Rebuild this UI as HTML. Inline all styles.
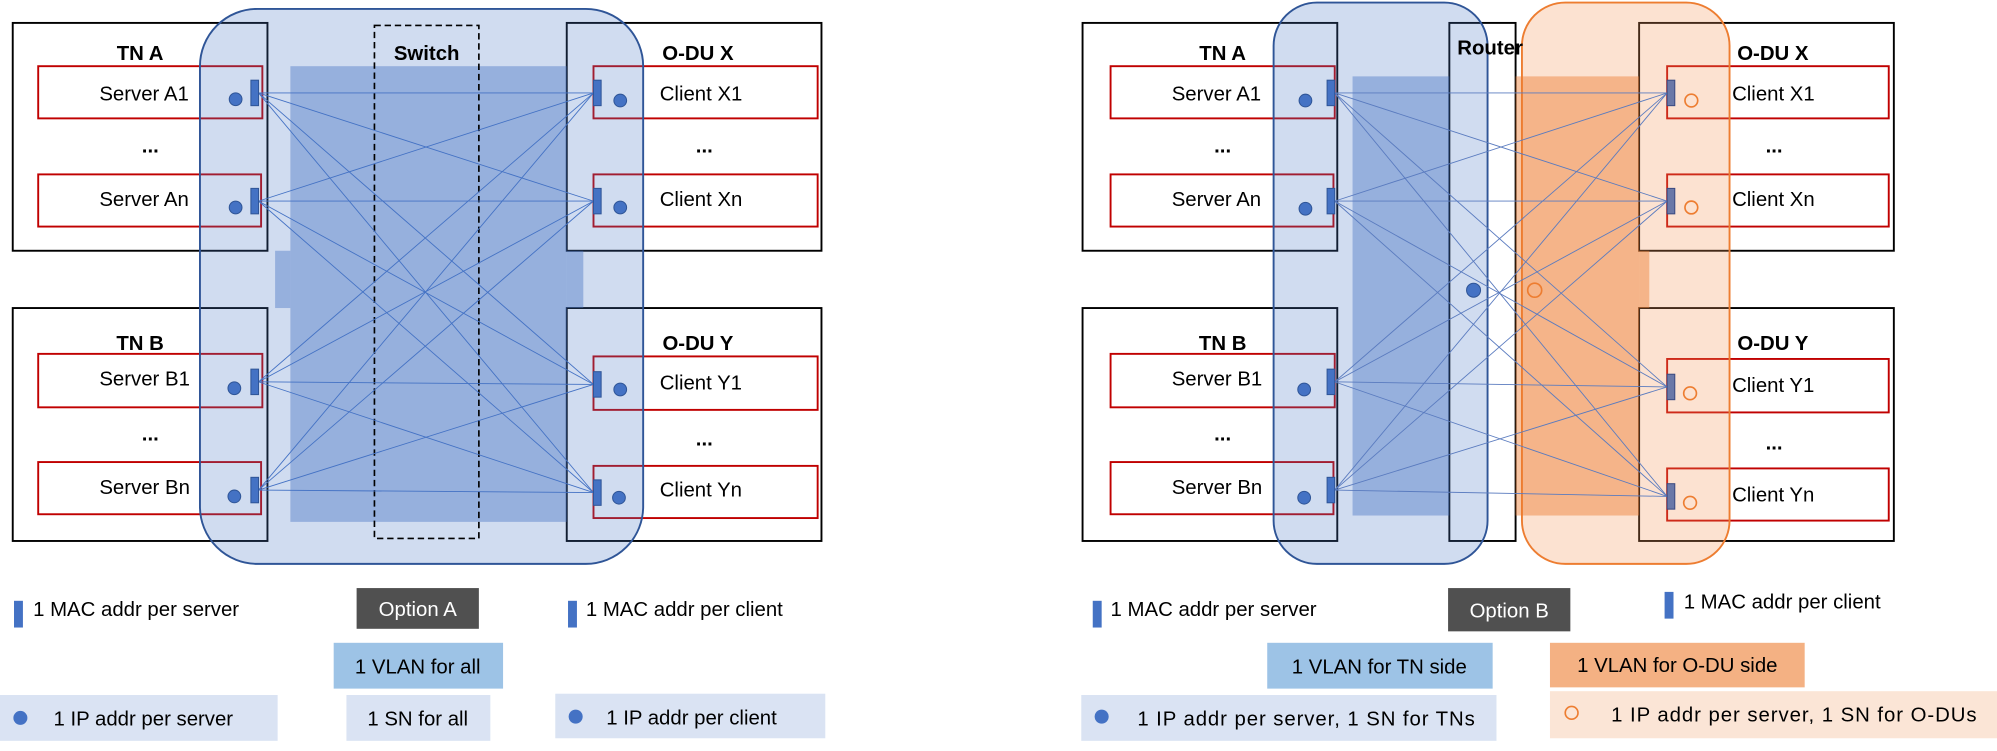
<!DOCTYPE html>
<html><head><meta charset="utf-8"><style>
html,body{margin:0;padding:0;background:#fff;}
svg{display:block;}
text{font-family:"Liberation Sans",sans-serif;font-size:16px;fill:#000;}
.b{font-weight:bold;}
</style></head><body>
<svg width="1997" height="751" viewBox="0 0 1568 590" preserveAspectRatio="none" xmlns="http://www.w3.org/2000/svg">
<!-- LEFT -->
<g fill="#fff" stroke="#000" stroke-width="1.5">
<rect x="10" y="18" width="200" height="179"/>
<rect x="10" y="242" width="200" height="183"/>
<rect x="445" y="18" width="200" height="179"/>
<rect x="445" y="242" width="200" height="183"/>
</g>
<g fill="none" stroke="#c00000" stroke-width="1.5">
<rect x="30" y="52" width="176" height="41"/>
<rect x="30" y="137" width="175" height="41"/>
<rect x="30" y="278" width="176" height="42"/>
<rect x="30" y="363" width="175" height="41"/>
<rect x="466" y="52" width="176" height="41"/>
<rect x="466" y="137" width="176" height="41"/>
<rect x="466" y="280" width="176" height="42"/>
<rect x="466" y="366" width="176" height="41"/>
</g>
<rect x="157" y="7" width="348" height="436" rx="45" fill="rgba(68,114,196,0.25)" stroke="#2f5597" stroke-width="1.5"/>
<rect x="228" y="52" width="217" height="358" fill="rgba(68,114,196,0.42)"/>
<rect x="216" y="197" width="12" height="45" fill="rgba(68,114,196,0.42)"/>
<rect x="445" y="197" width="13" height="45" fill="rgba(68,114,196,0.42)"/>
<rect x="294" y="20" width="82" height="403" fill="none" stroke="#000" stroke-width="1.3" stroke-dasharray="5,3"/>
<g stroke="#4472c4" stroke-width="0.7">
<line x1="203" y1="73" x2="466" y2="73"/><line x1="203" y1="73" x2="466" y2="158"/><line x1="203" y1="73" x2="466" y2="302"/><line x1="203" y1="73" x2="466" y2="387"/>
<line x1="203" y1="158" x2="466" y2="73"/><line x1="203" y1="158" x2="466" y2="158"/><line x1="203" y1="158" x2="466" y2="302"/><line x1="203" y1="158" x2="466" y2="387"/>
<line x1="203" y1="300" x2="466" y2="73"/><line x1="203" y1="300" x2="466" y2="158"/><line x1="203" y1="300" x2="466" y2="302"/><line x1="203" y1="300" x2="466" y2="387"/>
<line x1="203" y1="385" x2="466" y2="73"/><line x1="203" y1="385" x2="466" y2="158"/><line x1="203" y1="385" x2="466" y2="302"/><line x1="203" y1="385" x2="466" y2="387"/>
</g>
<g fill="#4472c4" stroke="#2f5597" stroke-width="0.8">
<rect x="197" y="63" width="6" height="20"/><rect x="197" y="148" width="6" height="20"/><rect x="197" y="290" width="6" height="20"/><rect x="197" y="375" width="6" height="20"/>
<rect x="466" y="63" width="6" height="20"/><rect x="466" y="148" width="6" height="20"/><rect x="466" y="292" width="6" height="20"/><rect x="466" y="377" width="6" height="20"/>
<circle cx="185" cy="78" r="5"/><circle cx="185" cy="163" r="5"/><circle cx="184" cy="305" r="5"/><circle cx="184" cy="390" r="5"/>
<circle cx="487" cy="79" r="5"/><circle cx="487" cy="163" r="5"/><circle cx="487" cy="306" r="5"/><circle cx="486" cy="391" r="5"/>
</g>
<text x="110" y="47" class="b" text-anchor="middle">TN A</text>
<text x="110" y="275" class="b" text-anchor="middle">TN B</text>
<text x="548" y="47" class="b" text-anchor="middle">O-DU X</text>
<text x="548" y="275" class="b" text-anchor="middle">O-DU Y</text>
<text x="335" y="47" class="b" text-anchor="middle">Switch</text>
<text x="78" y="79">Server A1</text><text x="78" y="162">Server An</text>
<text x="78" y="303">Server B1</text><text x="78" y="388">Server Bn</text>
<text x="518" y="79">Client X1</text><text x="518" y="162">Client Xn</text>
<text x="518" y="306">Client Y1</text><text x="518" y="390">Client Yn</text>
<text x="118" y="120" class="b" text-anchor="middle">...</text><text x="118" y="346" class="b" text-anchor="middle">...</text>
<text x="553" y="120" class="b" text-anchor="middle">...</text><text x="553" y="350" class="b" text-anchor="middle">...</text>
<!-- left legend -->
<rect x="11" y="472" width="7" height="21" fill="#4472c4"/>
<text x="26" y="484">1 MAC addr per server</text>
<rect x="280" y="462" width="96" height="32" fill="#505050"/>
<text x="328" y="484" text-anchor="middle" style="fill:#fff">Option A</text>
<rect x="446" y="472" width="7" height="21" fill="#4472c4"/>
<text x="460" y="484">1 MAC addr per client</text>
<rect x="262" y="505" width="133" height="36" fill="#9dc3e6"/>
<text x="328" y="529" text-anchor="middle">1 VLAN for all</text>
<rect x="0" y="546" width="218" height="36" fill="#dae3f3"/>
<circle cx="16" cy="564" r="5.5" fill="#4472c4"/>
<text x="42" y="570">1 IP addr per server</text>
<rect x="272" y="546" width="113" height="36" fill="#dae3f3"/>
<text x="328" y="570" text-anchor="middle">1 SN for all</text>
<rect x="436" y="545" width="212" height="35" fill="#dae3f3"/>
<circle cx="452" cy="563" r="5.5" fill="#4472c4"/>
<text x="476" y="569">1 IP addr per client</text>

<!-- RIGHT -->
<g fill="#fff" stroke="#000" stroke-width="1.5">
<rect x="850" y="18" width="200" height="179"/>
<rect x="850" y="242" width="200" height="183"/>
<rect x="1287" y="18" width="200" height="179"/>
<rect x="1287" y="242" width="200" height="183"/>
<rect x="1138" y="18" width="52" height="407"/>
</g>
<g fill="none" stroke="#c00000" stroke-width="1.5">
<rect x="872" y="52" width="176" height="41"/>
<rect x="872" y="137" width="175" height="41"/>
<rect x="872" y="278" width="176" height="42"/>
<rect x="872" y="363" width="175" height="41"/>
<rect x="1309" y="52" width="174" height="41"/>
<rect x="1309" y="137" width="174" height="41"/>
<rect x="1309" y="282" width="174" height="42"/>
<rect x="1309" y="368" width="174" height="41"/>
</g>
<rect x="1000" y="2" width="168" height="441" rx="34" fill="rgba(68,114,196,0.25)" stroke="#2f5597" stroke-width="1.5"/>
<rect x="1195" y="2" width="163" height="441" rx="34" fill="rgba(244,150,90,0.28)" stroke="#ed7d31" stroke-width="1.5"/>
<rect x="1062" y="60" width="76" height="345" fill="rgba(68,114,196,0.42)"/>
<rect x="1190" y="60" width="97" height="345" fill="rgba(237,125,49,0.45)"/>
<rect x="1287" y="197" width="8" height="45" fill="rgba(237,125,49,0.45)"/>
<g stroke="#5a7bbf" stroke-width="0.7">
<line x1="1048" y1="73" x2="1309" y2="73"/><line x1="1048" y1="73" x2="1309" y2="158"/><line x1="1048" y1="73" x2="1309" y2="304"/><line x1="1048" y1="73" x2="1309" y2="390"/>
<line x1="1048" y1="158" x2="1309" y2="73"/><line x1="1048" y1="158" x2="1309" y2="158"/><line x1="1048" y1="158" x2="1309" y2="304"/><line x1="1048" y1="158" x2="1309" y2="390"/>
<line x1="1048" y1="300" x2="1309" y2="73"/><line x1="1048" y1="300" x2="1309" y2="158"/><line x1="1048" y1="300" x2="1309" y2="304"/><line x1="1048" y1="300" x2="1309" y2="390"/>
<line x1="1048" y1="385" x2="1309" y2="73"/><line x1="1048" y1="385" x2="1309" y2="158"/><line x1="1048" y1="385" x2="1309" y2="304"/><line x1="1048" y1="385" x2="1309" y2="390"/>
</g>
<g fill="#4472c4" stroke="#2f5597" stroke-width="0.8">
<rect x="1042" y="63" width="6" height="20"/><rect x="1042" y="148" width="6" height="20"/><rect x="1042" y="290" width="6" height="20"/><rect x="1042" y="375" width="6" height="20"/>
<circle cx="1025" cy="79" r="5"/><circle cx="1025" cy="164" r="5"/><circle cx="1024" cy="306" r="5"/><circle cx="1024" cy="391" r="5"/>
<circle cx="1157" cy="228" r="5.5"/>
</g>
<g fill="#6a78a8" stroke="#3b4a80" stroke-width="0.8">
<rect x="1309" y="63" width="6" height="20"/><rect x="1309" y="148" width="6" height="20"/><rect x="1309" y="294" width="6" height="20"/><rect x="1309" y="380" width="6" height="20"/>
</g>
<g fill="none" stroke="#ed7d31" stroke-width="1.3">
<circle cx="1328" cy="79" r="5"/><circle cx="1328" cy="163" r="5"/><circle cx="1327" cy="309" r="5"/><circle cx="1327" cy="395" r="5"/>
<circle cx="1205" cy="228" r="5.5"/>
</g>
<text x="960" y="47" class="b" text-anchor="middle">TN A</text>
<text x="960" y="275" class="b" text-anchor="middle">TN B</text>
<text x="1392" y="47" class="b" text-anchor="middle">O-DU X</text>
<text x="1392" y="275" class="b" text-anchor="middle">O-DU Y</text>
<text x="1170" y="43" class="b" text-anchor="middle">Router</text>
<text x="920" y="79">Server A1</text><text x="920" y="162">Server An</text>
<text x="920" y="303">Server B1</text><text x="920" y="388">Server Bn</text>
<text x="1360" y="79">Client X1</text><text x="1360" y="162">Client Xn</text>
<text x="1360" y="308">Client Y1</text><text x="1360" y="394">Client Yn</text>
<text x="960" y="120" class="b" text-anchor="middle">...</text><text x="960" y="346" class="b" text-anchor="middle">...</text>
<text x="1393" y="120" class="b" text-anchor="middle">...</text><text x="1393" y="353" class="b" text-anchor="middle">...</text>
<!-- right legend -->
<rect x="858" y="472" width="7" height="21" fill="#4472c4"/>
<text x="872" y="484">1 MAC addr per server</text>
<rect x="1137" y="462" width="96" height="34" fill="#505050"/>
<text x="1185" y="485" text-anchor="middle" style="fill:#fff">Option B</text>
<rect x="1307" y="465" width="7" height="21" fill="#4472c4"/>
<text x="1322" y="478">1 MAC addr per client</text>
<rect x="995" y="505" width="177" height="36" fill="#9dc3e6"/>
<text x="1083" y="529" text-anchor="middle">1 VLAN for TN side</text>
<rect x="1217" y="505" width="200" height="35" fill="#f4b183"/>
<text x="1317" y="528" text-anchor="middle">1 VLAN for O-DU side</text>
<rect x="849" y="546" width="326" height="36" fill="#dae3f3"/>
<circle cx="865" cy="563" r="5.5" fill="#4472c4"/>
<text x="893" y="570" textLength="265" lengthAdjust="spacing">1 IP addr per server, 1 SN for TNs</text>
<rect x="1217" y="543" width="351" height="37" fill="#fbe5d6"/>
<circle cx="1234" cy="560" r="5" fill="none" stroke="#ed7d31" stroke-width="1.3"/>
<text x="1265" y="567" textLength="287" lengthAdjust="spacing">1 IP addr per server, 1 SN for O-DUs</text>
</svg>
</body></html>
